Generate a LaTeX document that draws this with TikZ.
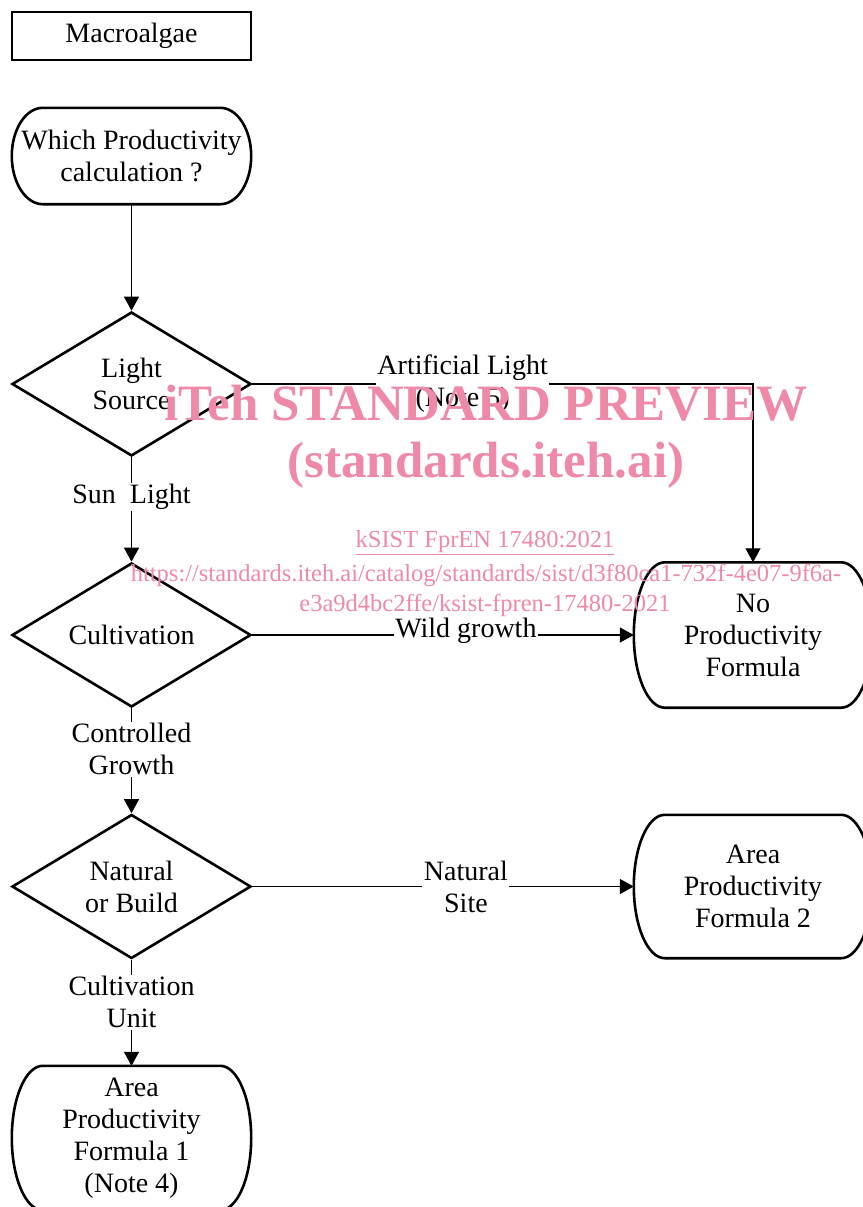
\documentclass[tikz,border=0pt]{standalone}
\usepackage{fontspec}
\setmainfont{Liberation Serif}
\usetikzlibrary{arrows.meta,positioning,calc,shapes.geometric}
\definecolor{wmPink}{RGB}{238,137,167}

% outline of a terminal box: flat top and bottom, half-ellipse ends
\newcommand\termoutline[1]{%
  \draw[boxline] let \p1=(#1.north west), \p2=(#1.south east),
      \n1={(\y1-\y2)/2} in
    (\x1+31pt,\y1) -- (\x2-31pt,\y1)
    arc[start angle=90,end angle=-90,x radius=31pt,y radius=\n1]
    -- (\x1+31pt,\y2)
    arc[start angle=-90,end angle=-270,x radius=31pt,y radius=\n1] -- cycle;}

\begin{document}
\begin{tikzpicture}[x=1pt,y=1pt,font=\fontsize{28}{32}\selectfont,
  boxline/.style={line width=2.6pt},
  startbox/.style={draw,boxline,minimum width=239pt,minimum height=48pt,inner sep=0pt},
  termbox/.style={minimum width=239pt,minimum height=#1,inner sep=0pt,align=center},
  choice/.style={draw,boxline,diamond,aspect=1.66,minimum width=239pt,
                 minimum height=144pt,inner sep=0pt,align=center},
  flow/.style={line width=1.2pt,-{Triangle[length=14pt,width=15pt]}},
  lbl/.style={fill=white,inner sep=1.5pt,align=center},
  wmark/.style={text=wmPink,inner sep=0pt}]
\useasboundingbox (0,0) rectangle (862,-1207);

\node[startbox] (algae) at (131.5,-36) {Macroalgae};
\node[termbox=96pt] (which) at (131.5,-156) {Which Productivity\\calculation ?};
\node[choice] (light) at (131.5,-384) {Light\\Source};
\node[choice] (cult) at (131.5,-635) {Cultivation};
\node[choice] (natb) at (131.5,-886.5) {Natural\\or Build};
\node[termbox=144pt] (apf1) at (131.5,-1138) {Area\\Productivity\\Formula 1\\(Note 4)};
\node[termbox=145pt,minimum width=238pt] (nopf) at (753,-635) {No\\Productivity\\Formula};
\node[termbox=143pt,minimum width=238pt] (apf2) at (753,-886.5) {Area\\Productivity\\Formula 2};

\termoutline{which}
\termoutline{apf1}
\termoutline{nopf}
\termoutline{apf2}

\draw[flow] (which) -- (light);
\draw[flow] (light.east) -| node[lbl,pos=0.21]{Artificial Light\\(Note 5)} (nopf.north);
\draw[flow] (light) -- node[lbl,pos=0.38]{Sun\ \ Light} (cult);
\draw[flow] (cult.east) -- node[lbl,pos=0.56,yshift=4pt]{Wild growth} (nopf.west);
\draw[flow] (cult) -- node[lbl,pos=0.39]{Controlled\\Growth} (natb);
\draw[flow] (natb.east) -- node[lbl,pos=0.56]{Natural\\Site} (apf2.west);
\draw[flow] (natb) -- node[lbl,pos=0.40]{Cultivation\\Unit} (apf1);

% watermark
\node[wmark,font=\fontsize{51}{56}\selectfont\bfseries] (wmA) at (486,-403) {iTeh STANDARD PREVIEW};
\node[wmark,font=\fontsize{51}{56}\selectfont\bfseries] (wmB) at (486,-465) {(standards.iteh.ai)};
\node[wmark,font=\fontsize{24.5}{29}\selectfont] (wmC) at (485,-543) {\underline{kSIST FprEN 17480:2021}};
\node[wmark,font=\fontsize{24.5}{29}\selectfont] (wmD) at (486,-576)
  {https://standards.iteh.ai/catalog/standards/sist/d3f80ca1-732f-4e07-9f6a-};
\node[wmark,font=\fontsize{24.5}{29}\selectfont] (wmE) at (485,-605) {e3a9d4bc2ffe/ksist-fpren-17480-2021};
\end{tikzpicture}
\end{document}
